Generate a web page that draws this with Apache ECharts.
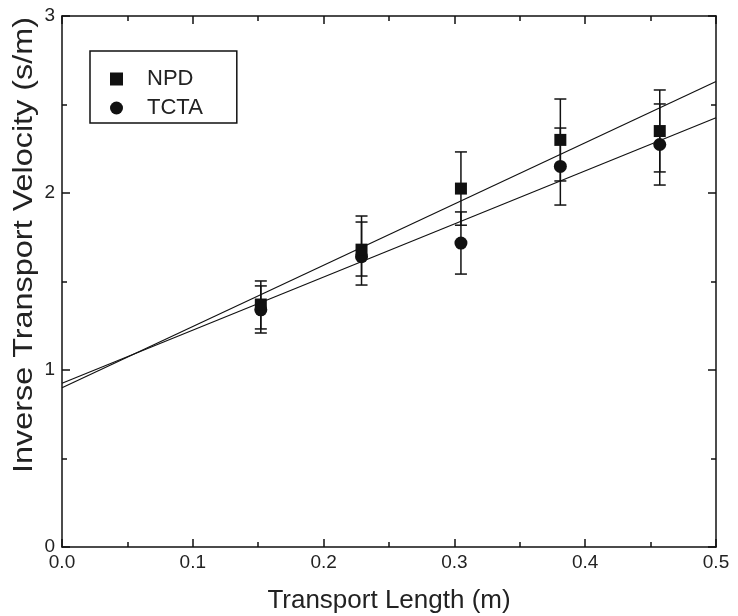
<!DOCTYPE html>
<html>
<head>
<meta charset="utf-8">
<script src="https://cdn.jsdelivr.net/npm/echarts@6/dist/echarts.min.js"></script>
<style>
  html, body { margin: 0; padding: 0; background: #fff; }
  #chart { width: 738px; height: 616px; }
</style>
</head>
<body>
<div id="chart"></div>
<script>
  // transport lengths (m), 6..18 inches
  const lengths = [0.152, 0.229, 0.305, 0.381, 0.457];

  const npdValues = [1.37, 1.68, 2.025, 2.30, 2.35];
  const npdLow = [1.209, 1.480, 1.818, 2.068, 2.119];
  const npdHigh = [1.503, 1.870, 2.232, 2.531, 2.582];

  const tctaValues = [1.34, 1.64, 1.717, 2.15, 2.274];
  const tctaLow = [1.232, 1.531, 1.542, 1.932, 2.045];
  const tctaHigh = [1.475, 1.836, 1.893, 2.367, 2.503];

  // linear fits: intercept, slope
  const npdFit = [0.90, 3.46];
  const tctaFit = [0.925, 3.0];
  const fitRange = [0, 0.5];

  const xTicks = [0, 0.1, 0.2, 0.3, 0.4, 0.5];
  const yTicks = [0, 1, 2, 3];

  const font = "'Liberation Sans', Arial, sans-serif";
  const ink = "#111";

  function fitLine(fit) {
    return fitRange.map(x => [x, fit[0] + fit[1] * x]);
  }

  function errorData(low, high) {
    return lengths.map((x, i) => [x, low[i], high[i]]);
  }

  function renderError(params, api) {
    const x = api.value(0);
    const lo = api.coord([x, api.value(1)]);
    const hi = api.coord([x, api.value(2)]);
    const w = 6;
    const style = { stroke: ink, lineWidth: 1.5 };
    return {
      type: "group",
      children: [
        { type: "line", shape: { x1: lo[0], y1: lo[1], x2: hi[0], y2: hi[1] }, style },
        { type: "line", shape: { x1: hi[0] - w, y1: hi[1], x2: hi[0] + w, y2: hi[1] }, style },
        { type: "line", shape: { x1: lo[0] - w, y1: lo[1], x2: lo[0] + w, y2: lo[1] }, style }
      ]
    };
  }

  const axisBase = {
    type: "value",
    axisLine: { show: true, onZero: false, lineStyle: { color: ink, width: 1.5 } },
    axisTick: { show: true, inside: true, length: 8, lineStyle: { color: ink, width: 1.5 } },
    minorTick: { show: true, splitNumber: 2, length: 5, lineStyle: { color: ink, width: 1.5 } },
    splitLine: { show: false }
  };

  const chart = echarts.init(document.getElementById("chart"));
  chart.setOption({
    animation: false,
    backgroundColor: "#fff",
    grid: { left: 62, right: 22, top: 16, bottom: 69, outerBoundsMode: "none", containLabel: false },
    legend: {
      orient: "vertical",
      left: 90,
      top: 51,
      padding: [17, 34, 4, 20],
      itemWidth: 13,
      itemHeight: 13,
      itemGap: 7,
      borderColor: ink,
      borderWidth: 1.5,
      textStyle: { fontFamily: font, fontSize: 22, color: "#222", padding: [0, 0, 0, 19] },
      data: [
        { name: "NPD", icon: "rect" },
        { name: "TCTA", icon: "circle" }
      ]
    },
    graphic: [
      {
        type: "text",
        x: 25,
        y: 245,
        rotation: Math.PI / 2,
        scaleX: 1.2,
        style: {
          text: "Inverse Transport Velocity (s/m)",
          fontFamily: font,
          fontSize: 27,
          fill: "#222",
          align: "center",
          verticalAlign: "middle"
        }
      }
    ],
    xAxis: [
      Object.assign({}, axisBase, {
        min: 0, max: 0.5, interval: 0.1,
        name: "Transport Length (m)",
        nameLocation: "middle",
        nameGap: 41,
        nameTextStyle: { fontFamily: font, fontSize: 26, color: "#222" },
        axisLabel: {
          fontFamily: font, fontSize: 19, color: "#222", margin: 6,
          formatter: v => xTicks.indexOf(+v.toFixed(1)) >= 0 ? v.toFixed(1) : ""
        }
      }),
      Object.assign({}, axisBase, {
        position: "top", min: 0, max: 0.5, interval: 0.1,
        axisLabel: { show: false }
      })
    ],
    yAxis: [
      Object.assign({}, axisBase, {
        min: 0, max: 3, interval: 1,
        axisLabel: {
          fontFamily: font, fontSize: 19, color: "#222", margin: 7,
          formatter: v => yTicks.indexOf(v) >= 0 ? String(v) : ""
        }
      }),
      Object.assign({}, axisBase, {
        position: "right", min: 0, max: 3, interval: 1,
        axisLabel: { show: false }
      })
    ],
    series: [
      {
        type: "line", data: fitLine(npdFit), showSymbol: false, silent: true,
        lineStyle: { color: ink, width: 1.2 }
      },
      {
        type: "line", data: fitLine(tctaFit), showSymbol: false, silent: true,
        lineStyle: { color: ink, width: 1.2 }
      },
      { type: "custom", data: errorData(npdLow, npdHigh), renderItem: renderError, silent: true },
      { type: "custom", data: errorData(tctaLow, tctaHigh), renderItem: renderError, silent: true },
      {
        name: "TCTA", type: "scatter", symbol: "circle", symbolSize: 13,
        data: lengths.map((x, i) => [x, tctaValues[i]]),
        itemStyle: { color: ink, opacity: 1 }
      },
      {
        name: "NPD", type: "scatter", symbol: "rect", symbolSize: 12,
        data: lengths.map((x, i) => [x, npdValues[i]]),
        itemStyle: { color: ink, opacity: 1 }
      }
    ]
  });
</script>
</body>
</html>
